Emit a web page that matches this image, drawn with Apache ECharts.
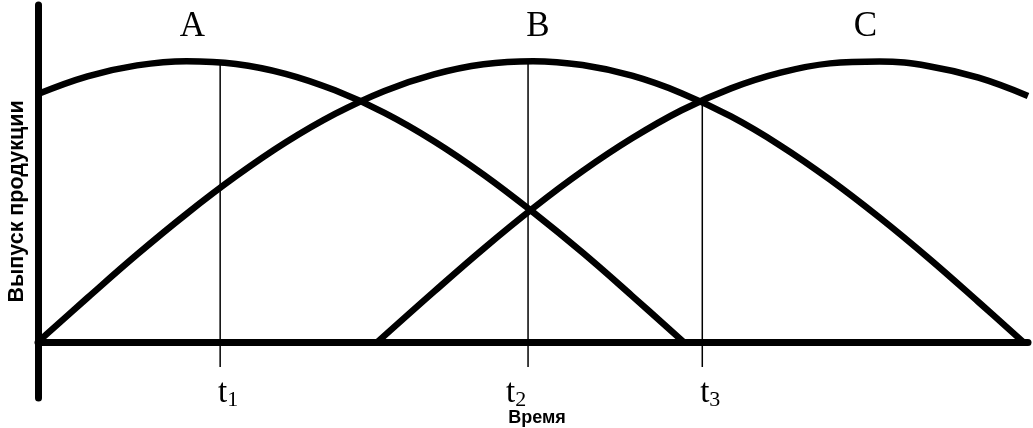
<!DOCTYPE html>
<html>
<head>
<meta charset="utf-8">
<title>Выпуск продукции</title>
<script src="https://cdn.jsdelivr.net/npm/echarts@6.0.0/dist/echarts.min.js"></script>
<style>
  html, body { margin: 0; padding: 0; background: #fff; }
  #chart { width: 1033px; height: 428px; }
</style>
</head>
<body>
<div id="chart"></div>
<script>
// время (условные единицы) и выпуск продукции по трём изделиям
var timeA = [0, 5, 10, 15, 20, 25, 30, 35, 40, 45, 50, 55, 60, 65.2]
var outputA = [88.3, 94.6, 98.5, 100, 99.0, 95.5, 89.6, 81.6, 71.5, 59.6, 46.2, 31.8, 16.4, 0]

var timeB = [0, 5, 10, 15, 20, 25, 30, 35, 40, 45, 50, 55, 60, 65, 70, 75, 80, 85, 90, 95, 99.5]
var outputB = [0, 15.7, 31.1, 45.6, 59.0, 71.0, 81.2, 89.4, 95.3, 98.9, 100, 98.6, 94.8, 88.6, 80.3, 69.9, 57.8, 44.3, 29.7, 14.2, 0]

var timeC = [34.3, 40, 45, 50, 55, 60, 65, 70, 75, 80, 85, 90, 95, 100]
var outputC = [0, 17.9, 33.2, 47.6, 60.8, 72.5, 82.5, 90.3, 95.9, 99.2, 99.9, 98.2, 94.1, 87.6]

var curveNames = ['A', 'B', 'C']

// моменты t1, t2, t3 и вертикальные отметки
var tickTimes = [18.4, 49.5, 67.1]
var tickTops = [99.5, 100, 85.5]
var tickBottom = -9
var tickSubs = ['1', '2', '3']

// сдвиг подписей A, B, C относительно вершины
var nameShift = [6, 5, -14]

var serif = '"Liberation Serif", "Times New Roman", serif'
var sans = '"Liberation Sans", Arial, sans-serif'

// кривая выпуска с подписью над вершиной
function buildCurve(name, times, values, shiftX) {
    var peak = values.indexOf(Math.max.apply(null, values))
    return {
        type: 'line',
        name: name,
        smooth: 0.4,
        symbol: 'circle',
        symbolSize: 0,
        silent: true,
        z: 3,
        lineStyle: { color: '#000', width: 6.5, cap: 'butt' },
        itemStyle: { color: '#000' },
        label: {
            show: true,
            position: 'top',
            offset: [shiftX, -12],
            fontFamily: serif,
            fontSize: 35,
            color: '#000',
            formatter: function (p) {
                return p.dataIndex === peak ? name : ''
            }
        },
        data: times.map(function (t, i) { return [t, values[i]] })
    }
}

var series = []

// тонкие вертикальные линии t1, t2, t3
tickTimes.forEach(function (t, i) {
    series.push({
        type: 'line',
        symbol: 'none',
        silent: true,
        z: 2,
        lineStyle: { color: '#000', width: 1.5 },
        data: [[t, tickTops[i]], [t, tickBottom]]
    })
})

series.push(buildCurve(curveNames[0], timeA, outputA, nameShift[0]))
series.push(buildCurve(curveNames[1], timeB, outputB, nameShift[1]))
series.push(buildCurve(curveNames[2], timeC, outputC, nameShift[2]))

var option = {
    animation: false,
    backgroundColor: '#fff',
    grid: { left: 38, right: 5, top: 5, bottom: 30, containLabel: false, outerBoundsMode: 'none' },
    xAxis: {
        type: 'value',
        min: 0,
        max: 100,
        name: 'Время',
        nameLocation: 'middle',
        nameGap: 11,
        nameMoveOverlap: false,
        nameTextStyle: { fontFamily: sans, fontWeight: 'bold', fontSize: 18, color: '#000', padding: [0, 0, 0, 8] },
        axisLine: { onZero: true, lineStyle: { color: '#000', width: 7 } },
        axisTick: { show: false },
        splitLine: { show: false },
        axisLabel: {
            customValues: tickTimes,
            margin: -23,
            formatter: function (value) {
                var i = tickTimes.indexOf(value)
                if (i === 1) return '{t|t}{s|' + tickSubs[i] + '}{w| }'
                return '{n| }{t|t}{s|' + tickSubs[i] + '}'
            },
            rich: {
                t: { fontFamily: serif, fontSize: 33, lineHeight: 32, color: '#000' },
                s: { fontFamily: serif, fontSize: 22, padding: [14, 0, 0, 0], color: '#000' },
                n: { width: 16 },
                w: { width: 24 }
            }
        }
    },
    yAxis: {
        type: 'value',
        min: -20,
        max: 120,
        name: 'Выпуск продукции',
        nameLocation: 'middle',
        nameRotate: 90,
        nameGap: 10,
        nameTextStyle: { fontFamily: sans, fontWeight: 'bold', fontSize: 21.5, color: '#000' },
        axisLine: { show: true, lineStyle: { color: '#000', width: 7 } },
        axisTick: { show: false },
        axisLabel: { show: false },
        splitLine: { show: false }
    },
    series: series
}

var myChart = echarts.init(document.getElementById('chart'))
myChart.setOption(option)
</script>
</body>
</html>
